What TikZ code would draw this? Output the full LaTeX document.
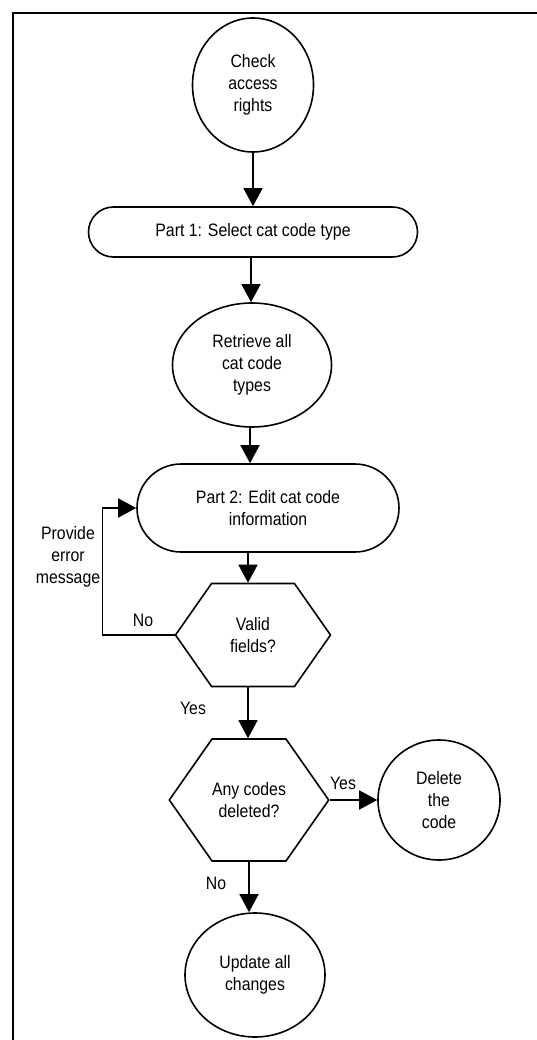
\documentclass[tikz,border=0pt]{standalone}
\usepackage{fontspec}
\setmainfont{Liberation Sans}[FakeStretch=0.88]
\usetikzlibrary{shapes,arrows.meta,positioning}

\begin{document}
\begin{tikzpicture}[x=1pt, y=-1pt,
    every node/.style={font=\fontsize{18}{22}\selectfont, align=center},
    oval/.style={draw, ellipse, inner sep=0pt, line width=1.6pt},
    stadium/.style={draw, rounded rectangle, inner sep=0pt, line width=1.6pt},
    decision/.style={draw, signal, signal to=west and east, signal pointer angle=110, inner sep=0pt, line width=1.6pt},
    arrow/.style={-{Triangle[length=18pt, width=19pt]}, line width=1.6pt}
]
\useasboundingbox (0,0) rectangle (537,1040);

% frame
\draw[line width=1.6pt] (13,1040) -- (13,13) -- (537,13);

% main column
\node[oval, minimum width=121, minimum height=134] (check) at (253,85) {Check\\access\\rights};
\node[stadium, minimum width=329, minimum height=50] (part1) at (253,232) {Part 1: Select cat code type};
\node[oval, minimum width=159, minimum height=124] (retrieve) at (252,365) {Retrieve all\\cat code\\types};
\node[stadium, minimum width=262, minimum height=88] (part2) at (268,508) {Part 2: Edit cat code\\information};
\node[decision, minimum width=155, minimum height=103] (valid) at (253,635) {Valid\\fields?};
\node[decision, minimum width=158, minimum height=122] (anycodes) at (249,800) {Any codes\\deleted?};
\node[oval, minimum width=122, minimum height=120] (delete) at (439,800) {Delete\\the\\code};
\node[oval, minimum width=140, minimum height=124] (update) at (255,975) {Update all\\changes};

% labels
\node (provide) at (68,557) {Provide\\error\\message};
\node (novalid) at (143,620) {No};
\node (yesvalid) at (193,708) {Yes};
\node (yesany) at (343,783) {Yes};
\node (noany) at (216,883) {No};

% arrows
\draw[arrow] (check.south -| 253,0) -- (part1.north -| 253,0);
\draw[arrow] (part1.south -| 251,0) -- (retrieve.north -| 251,0);
\draw[arrow] (retrieve.south -| 250,0) -- (part2.north -| 250,0);
\draw[arrow] (part2.south -| 248,0) -- (valid.north -| 248,0);
\draw[arrow] (valid.south -| 248,0) -- (anycodes.north -| 248,0);
\draw[arrow] (anycodes.south -| 249,0) -- (update.north -| 249,0);
\draw[arrow] (anycodes.east) -- (delete.west);
\draw[arrow] (valid.west) -- ++(-72,0) |- (part2.west);

\end{tikzpicture}
\end{document}
